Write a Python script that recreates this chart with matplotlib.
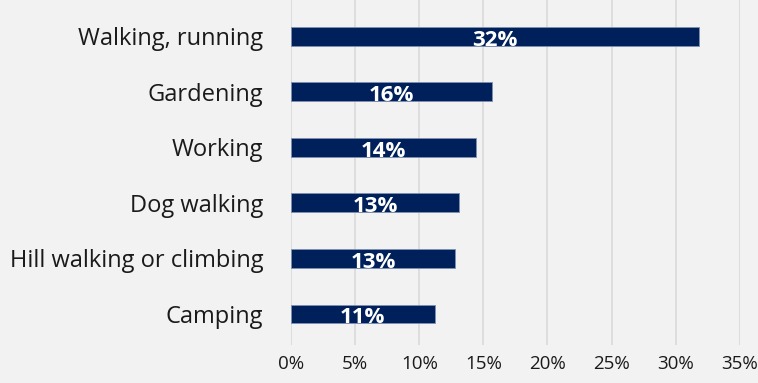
import matplotlib.pyplot as plt
from matplotlib.ticker import FuncFormatter
from matplotlib import font_manager

categories = ["Walking, running", "Gardening", "Working", "Dog walking",
              "Hill walking or climbing", "Camping"]
values = [31.8, 15.7, 14.4, 13.1, 12.8, 11.2]
labels = ["32%", "16%", "14%", "13%", "13%", "11%"]
xticks = [0, 5, 10, 15, 20, 25, 30, 35]

BG = "#f2f2f2"
NAVY = "#00205b"
TXT = "#1a1a1a"

plt.rcParams["font.family"] = ["Open Sans", "DejaVu Sans"]
names = {f.name for f in font_manager.fontManager.ttflist}
narrow = "Liberation Sans Narrow" if "Liberation Sans Narrow" in names else "Open Sans"

fig = plt.figure(figsize=(7.58, 3.83), dpi=100, facecolor=BG)
ax = fig.add_axes([0.384, 0.099, 0.592, 0.901], facecolor=BG)

h = 0.34
y = list(range(len(categories)))
ax.barh(y, values, height=h, color=NAVY, edgecolor="#8090b0", linewidth=0.6, zorder=3)

for yi, v, lab in zip(y, values, labels):
    ax.text(v / 2, yi + h / 2, lab, ha="center", va="baseline",
            color="white", fontweight="bold", fontsize=16, zorder=4)

ax.set_ylim(5.56, -0.65)
ax.set_xlim(0, 35)
ax.set_xticks(xticks)
ax.xaxis.set_major_formatter(FuncFormatter(lambda x, _: f"{x:.0f}%"))
ax.set_yticks(y)
ax.set_yticklabels(categories)
ax.grid(axis="x", color="#d9d9d9", linewidth=1.2, zorder=0)
for s in ax.spines.values():
    s.set_visible(False)
ax.tick_params(axis="y", length=0, pad=20, labelsize=17, labelcolor=TXT)
ax.tick_params(axis="x", length=0, pad=7, labelsize=13.5, labelcolor=TXT)
for t in ax.get_xticklabels():
    t.set_family(narrow)

fig.savefig("out.png", dpi=100, facecolor=BG)
